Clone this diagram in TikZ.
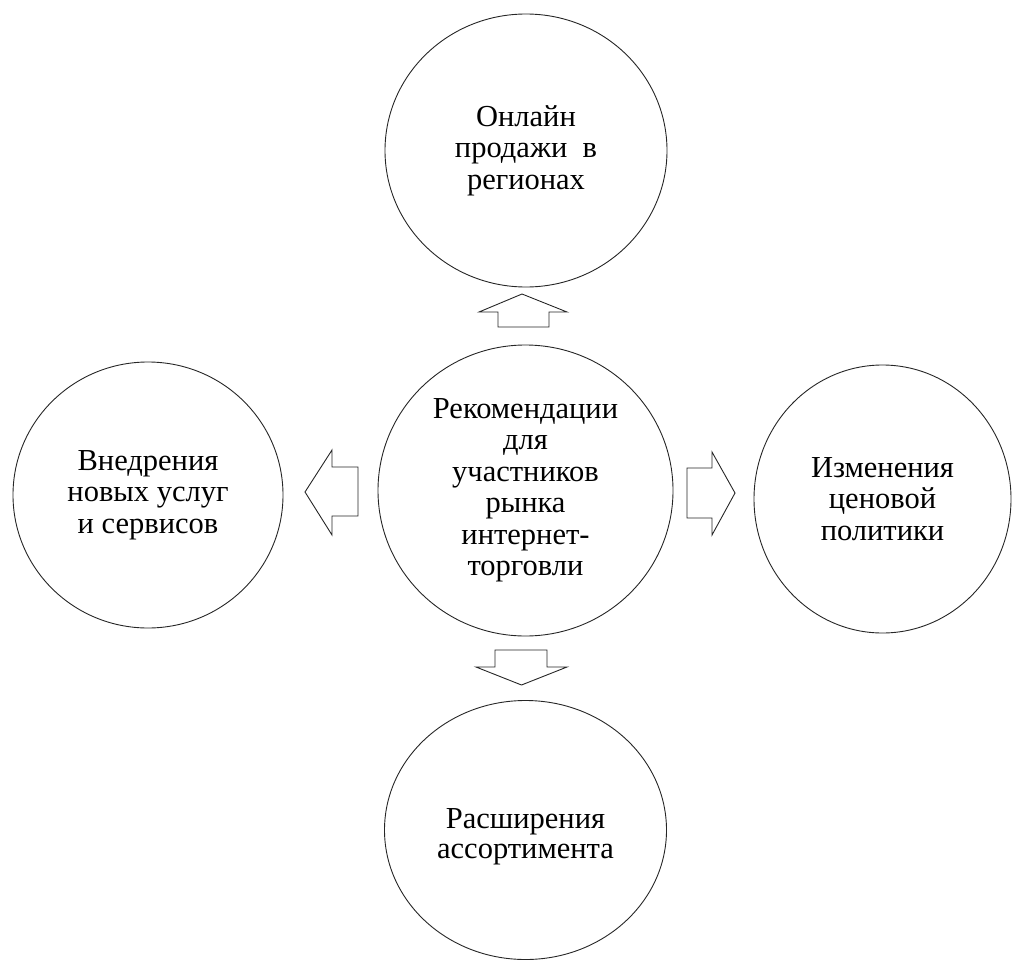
\documentclass[tikz,border=0pt]{standalone}
\usepackage{fontspec}
\setmainfont{Liberation Serif}
\usetikzlibrary{shapes.geometric}
\begin{document}
\begin{tikzpicture}[x=1pt,y=-1pt,
  bubble/.style={draw=black!85, line width=0.9pt, ellipse, inner sep=0pt, align=center, font=\fontsize{30.5}{31.5}\selectfont},
  blockarrow/.style={draw=black!85, line width=0.9pt, line join=miter}]
\useasboundingbox (0,0) rectangle (1014,961);
\node[bubble, minimum width=282pt, minimum height=273pt] (top) at (526,150.5) {Онлайн\\продажи~~в\\регионах};
\node[bubble, minimum width=295pt, minimum height=291pt] (center) at (525.5,490.5) {Рекомендации\\для\\участников\\рынка\\интернет-\\торговли};
\node[bubble, minimum width=270pt, minimum height=266pt] (left) at (148,495) {Внедрения\\новых услуг\\и сервисов};
\node[bubble, minimum width=257pt, minimum height=268pt] (right) at (882.5,499) {Изменения\\ценовой\\политики};
\node[bubble, minimum width=282pt, minimum height=259pt] (bottom) at (525.5,830) {\rule{0pt}{16pt}\\[-14pt]Расширения\\[-1.5pt]ассортимента};
% block arrows
\draw[blockarrow] (522,294) -- (567,312) -- (549,312) -- (549,327) -- (498,327) -- (498,312) -- (479,312) -- cycle;
\draw[blockarrow] (521.5,685) -- (567,667) -- (547,667) -- (547,650) -- (495,650) -- (495,667) -- (476,667) -- cycle;
\draw[blockarrow] (305,492) -- (332,450) -- (332,467) -- (358,467) -- (358,516) -- (332,516) -- (332,535) -- cycle;
\draw[blockarrow] (735,493) -- (712,452) -- (712,468) -- (687,468) -- (687,518) -- (712,518) -- (712,535) -- cycle;
\end{tikzpicture}
\end{document}
